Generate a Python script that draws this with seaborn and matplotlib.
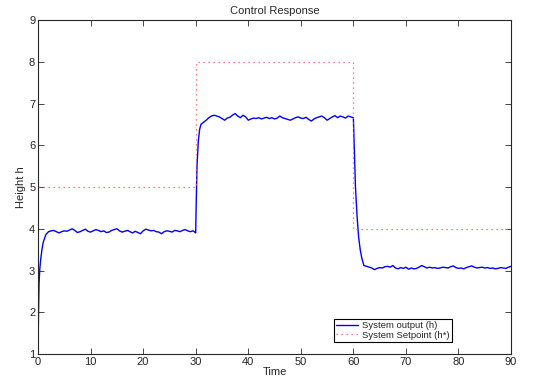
import matplotlib
matplotlib.use("Agg")
import matplotlib.pyplot as plt
import numpy as np
import pandas as pd
import seaborn as sns

# setpoint steps (h*)
setpoint_t = [0, 30, 30, 60, 60, 90]
setpoint_h = [5, 5, 8, 8, 4, 4]

# system output (h)
rise1_t = [0.0, 0.1, 0.2, 0.35, 0.5, 0.75, 1.0, 1.5, 2.0]
rise1_h = [1.0, 2.0, 2.7, 3.05, 3.25, 3.5, 3.68, 3.86, 3.93]
plateau1_h = [3.95, 3.96, 3.93, 3.90, 3.93, 3.95, 3.94, 3.97, 4.00, 3.96, 3.91,
              3.93, 3.96, 3.99, 3.94, 3.92, 3.95, 3.98, 3.96, 3.93, 3.95, 3.91,
              3.92, 3.96, 3.98, 4.00, 3.95, 3.92, 3.94, 3.96, 3.93, 3.90, 3.94,
              3.91, 3.88, 3.95, 3.99, 3.97, 3.95, 3.96, 3.93, 3.92, 3.88, 3.93,
              3.95, 3.94, 3.92, 3.96, 3.95, 3.93, 3.96, 3.98, 3.95, 3.93, 3.95]
rise2_t = [30.0, 30.1, 30.25, 30.5, 30.75, 31.0, 31.5, 32.0]
rise2_h = [3.90, 4.6, 5.5, 6.1, 6.38, 6.5, 6.55, 6.60]
plateau2_h = [6.66, 6.70, 6.72, 6.70, 6.68, 6.64, 6.60, 6.65, 6.67, 6.72, 6.76,
              6.70, 6.66, 6.72, 6.68, 6.60, 6.63, 6.65, 6.64, 6.66, 6.63, 6.65,
              6.67, 6.64, 6.66, 6.63, 6.65, 6.70, 6.66, 6.64, 6.62, 6.60, 6.63,
              6.66, 6.68, 6.65, 6.64, 6.67, 6.62, 6.58, 6.63, 6.66, 6.68, 6.70,
              6.66, 6.60, 6.64, 6.68, 6.71, 6.66, 6.70, 6.68, 6.65, 6.70, 6.68]
fall_t = [60.0, 60.2, 60.4, 60.7, 61.0, 61.3, 61.6, 62.0, 62.5]
fall_h = [6.66, 5.8, 5.0, 4.3, 3.8, 3.5, 3.3, 3.12, 3.10]
plateau3_h = [3.08, 3.06, 3.02, 3.05, 3.07, 3.06, 3.09, 3.10, 3.08, 3.12, 3.06,
              3.04, 3.07, 3.05, 3.08, 3.03, 3.06, 3.04, 3.05, 3.08, 3.12, 3.09,
              3.06, 3.08, 3.06, 3.07, 3.05, 3.06, 3.08, 3.07, 3.06, 3.09, 3.11,
              3.07, 3.05, 3.06, 3.04, 3.07, 3.09, 3.11, 3.08, 3.06, 3.07, 3.08,
              3.06, 3.07, 3.05, 3.06, 3.04, 3.05, 3.07, 3.06, 3.05, 3.08, 3.10]

# sample times of the plateaus (0.5 s apart)
plateau1_t = 2.5 + 0.5 * np.arange(len(plateau1_h))
plateau2_t = 32.5 + 0.5 * np.arange(len(plateau2_h))
plateau3_t = 63.0 + 0.5 * np.arange(len(plateau3_h))

out_t = np.concatenate([rise1_t, plateau1_t, rise2_t, plateau2_t, fall_t, plateau3_t])
out_h = np.concatenate([rise1_h, plateau1_h, rise2_h, plateau2_h, fall_h, plateau3_h])
output_df = pd.DataFrame({"Time": out_t, "h": out_h})
setpoint_df = pd.DataFrame({"Time": setpoint_t, "h": setpoint_h})

sns.set_style("ticks")
plt.rcParams["font.family"] = ["Liberation Sans", "DejaVu Sans"]
plt.rcParams["xtick.direction"] = "in"
plt.rcParams["ytick.direction"] = "in"

fig = plt.figure(figsize=(5.46, 3.82), dpi=100)
ax = fig.add_axes([0.0696, 0.0733, 0.8664, 0.8743])

sns.lineplot(data=output_df, x="Time", y="h", color="blue", linewidth=1.0,
             estimator=None, sort=False, label="System output (h)", ax=ax)
sns.lineplot(data=setpoint_df, x="Time", y="h", color="#ff5555", linewidth=0.9,
             linestyle=(0, (1, 3)), estimator=None, sort=False,
             label="System Setpoint (h*)", ax=ax)

ax.set_xlim(0, 90)
ax.set_ylim(1, 9)
ax.set_xticks(range(0, 91, 10))
ax.set_yticks(range(1, 10))
ax.tick_params(labelsize=8, length=4, width=0.6, top=True, right=True, pad=2)
for s in ax.spines.values():
    s.set_linewidth(0.8)
    s.set_visible(True)
ax.set_xlabel("Time", fontsize=8, labelpad=0)
ax.set_ylabel("Height h", fontsize=8, labelpad=2)
ax.set_title("Control Response", fontsize=8, pad=4)

leg = ax.legend(loc="lower left", bbox_to_anchor=(0.625, 0.036), fontsize=6.8,
                frameon=True, fancybox=False, framealpha=1, edgecolor="black",
                borderpad=0.25, labelspacing=0.05, handlelength=2.3,
                handletextpad=0.5, borderaxespad=0)
leg.get_frame().set_linewidth(0.8)

fig.savefig("out.png", dpi=100)
